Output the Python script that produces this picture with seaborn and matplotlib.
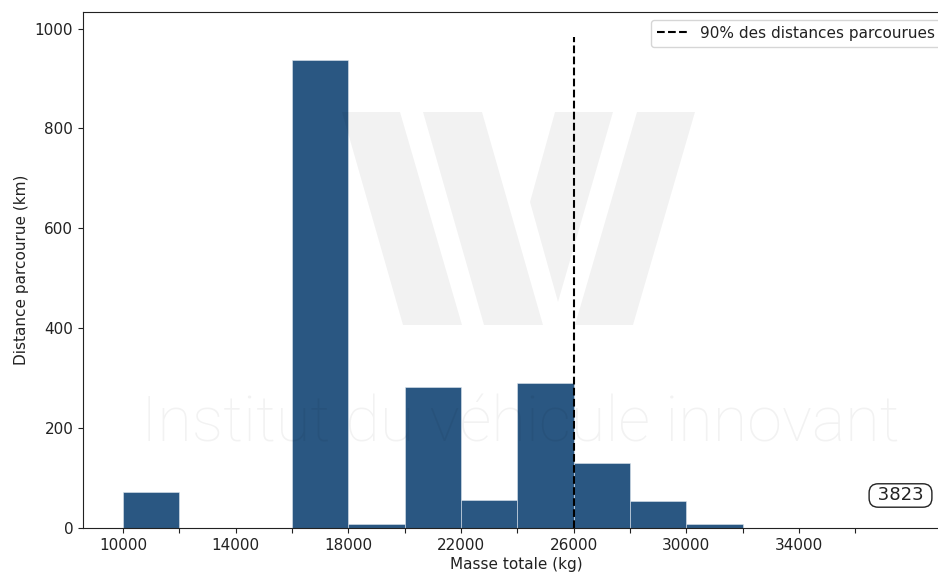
import numpy as np
import pandas as pd
import seaborn as sns
import matplotlib
matplotlib.use("Agg")
import matplotlib.pyplot as plt
from matplotlib.patches import Polygon

# ===============================
# DATA
# ===============================
bin_left = [10000, 12000, 14000, 16000, 18000, 20000, 22000, 24000, 26000, 28000, 30000]
distance_km = [72, 0, 0, 937, 8, 283, 57, 291, 131, 55, 8]
bin_width = 2000
seuil_90 = 26000
n_total = 3823
xtick_pos = list(range(10000, 38000, 2000))
xtick_lab = [str(t) if (t - 10000) % 4000 == 0 else "" for t in xtick_pos]

df = pd.DataFrame({"masse": [b + bin_width / 2 for b in bin_left], "distance": distance_km})

# ===============================
# FIGURE
# ===============================
fig = plt.figure(figsize=(9.38, 5.76), dpi=100)
ax = fig.add_axes([83 / 938, 48 / 576, 866 / 938, 516 / 576])

sns.histplot(data=df, x="masse", weights="distance", binwidth=bin_width,
             binrange=(bin_left[0], bin_left[-1] + bin_width),
             color="#2a5782", alpha=1, edgecolor="#dde6ee", linewidth=0.4, ax=ax)

ax.vlines(seuil_90, 0, max(distance_km) * 1.05, colors="black",
          linestyles="--", label="90% des distances parcourues")

ax.set_xlim(8578, 39333)
ax.set_xticks(xtick_pos)
ax.set_xticklabels(xtick_lab)
ax.tick_params(labelsize=11, colors="#222222")
for s in ax.spines.values():
    s.set_color("#222222")
ax.set_xlabel("Masse totale (kg)", fontsize=11, color="#222222", labelpad=3)
ax.set_ylabel("Distance parcourue (km)", fontsize=11, color="#222222")
leg = ax.legend(loc="upper right", fontsize=11)
for t in leg.get_texts():
    t.set_color("#222222")

ax.text(0.944, 0.063, " " + str(n_total) + " ", transform=ax.transAxes, fontsize=13,
        ha="center", va="center", color="#222222",
        bbox=dict(boxstyle="round,pad=0.15,rounding_size=0.5", facecolor="white",
                  edgecolor="#222222"))

# ===============================
# WATERMARK (logo + texte)
# ===============================
logo = [
    [(342, 112), (400, 112), (462, 325), (403, 325)],
    [(423, 112), (482, 112), (543, 325), (484, 325)],
    [(555, 112), (613, 112), (558, 302), (530, 202)],
    [(637, 112), (695, 112), (633, 325), (575, 325)],
]
for poly in logo:
    pts = [(px / 938, 1 - py / 576) for px, py in poly]
    fig.patches.append(Polygon(pts, closed=True, transform=fig.transFigure,
                               facecolor="black", alpha=0.05, edgecolor="none", zorder=5))

fig.text(520.5 / 938, 1 - 442 / 576, "Institut du véhicule innovant",
         ha="center", va="baseline", fontsize=45.4, family="Roboto", fontweight="light",
         color="black", alpha=0.05, zorder=5)

plt.savefig("out.png", dpi=100)
